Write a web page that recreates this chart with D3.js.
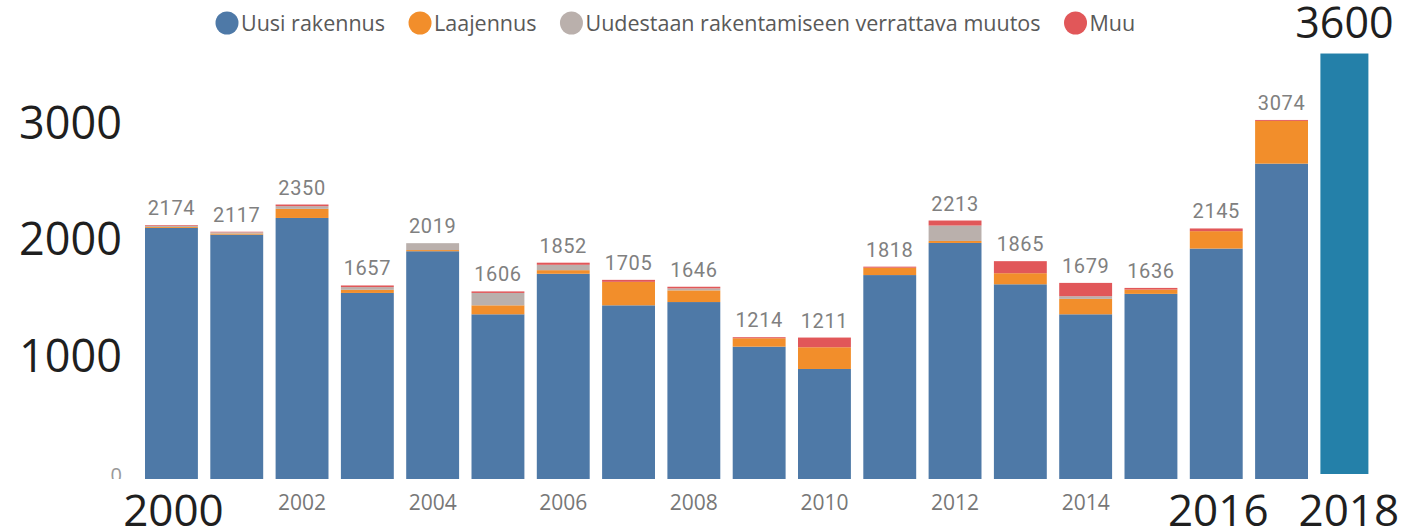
<!DOCTYPE html>
<html>
<head>
<meta charset="utf-8">
<script src="https://cdn.jsdelivr.net/npm/d3@7"></script>
<style>
  body { margin: 0; background: #fff; }
</style>
</head>
<body>
<script>

// get the data
var years = [2000, 2001, 2002, 2003, 2004, 2005, 2006, 2007, 2008, 2009,
             2010, 2011, 2012, 2013, 2014, 2015, 2016, 2017];
var uusi  = [2150, 2092, 2235, 1593, 1950, 1410, 1757, 1487, 1515, 1133,
             942, 1746, 2021, 1667, 1410, 1585, 1973, 2700];
var laaj  = [8, 10, 78, 27, 10, 77, 31, 201, 100, 72,
             186, 63, 17, 95, 132, 37, 149, 366];
var uud   = [10, 10, 23, 23, 59, 106, 46, 0, 17, 0,
             0, 0, 132, 0, 23, 0, 0, 0];
var muu   = [6, 5, 14, 14, 0, 13, 18, 17, 14, 9,
             83, 9, 43, 103, 114, 14, 23, 8];
var totals = [2174, 2117, 2350, 1657, 2019, 1606, 1852, 1705, 1646, 1214,
              1211, 1818, 2213, 1865, 1679, 1636, 2145, 3074];

// the extra 2018 bar pasted on the right
var extraYear = 2018;
var extraValue = 3600;

var seriesNames = ["Uusi rakennus", "Laajennus", "Uudestaan rakentamiseen verrattava muutos", "Muu"];
var seriesColors = ["#4e79a7", "#f28e2b", "#bab0ac", "#e15759"];

var smallTicks = [2002, 2004, 2006, 2008, 2010, 2012, 2014];
var bigTicks = [2000, 2016, 2018];
var bigValues = [1000, 2000, 3000];

var width = 1401,
    height = 531,
    baseline = 479;

var svg = d3.select("body").append("svg")
    .attr("width", width)
    .attr("height", height);

var allYears = years.concat([extraYear]);

var x = d3.scaleBand()
    .domain(allYears)
    .range([138.8, 1379.5])
    .paddingInner(0.19)
    .paddingOuter(0.095);

var y = d3.scaleLinear()
    .domain([0, 3600])
    .range([baseline, baseline - 3600 * 0.1168]);

// build rows for the stack
var rows = years.map(function(yr, i) {
    return {year: yr, s0: uusi[i], s1: laaj[i], s2: uud[i], s3: muu[i], total: totals[i]};
});

var stack = d3.stack().keys(["s0", "s1", "s2", "s3"]);
var stacked = stack(rows);

var layers = svg.append("g")
    .selectAll("g")
    .data(stacked)
    .enter().append("g")
    .attr("fill", function(d, i) { return seriesColors[i]; });

layers.selectAll("rect")
    .data(function(d) { return d; })
    .enter().append("rect")
    .attr("x", function(d) { return x(d.data.year); })
    .attr("width", x.bandwidth())
    .attr("y", function(d) { return y(d[1]); })
    .attr("height", function(d) { return y(d[0]) - y(d[1]); });

// value labels above the bars
svg.append("g")
    .selectAll("text")
    .data(rows)
    .enter().append("text")
    .attr("x", function(d) { return x(d.year) + x.bandwidth() / 2; })
    .attr("y", function(d) { return y(d.total) - 10; })
    .attr("text-anchor", "middle")
    .style("font-family", "Roboto, sans-serif")
    .style("font-size", "20px")
    .style("letter-spacing", "0.6px")
    .style("fill", "#808080")
    .text(function(d) { return d.total; });

// the 2018 bar is a bit narrower and sits a few px higher
var extraW = 48;
var shift = 5;
svg.append("rect")
    .attr("x", x(extraYear))
    .attr("width", extraW)
    .attr("y", y(extraValue) - shift)
    .attr("height", y(0) - y(extraValue))
    .attr("fill", "#2480a9");

svg.append("text")
    .attr("x", x(extraYear) + extraW / 2)
    .attr("y", y(extraValue) - shift - 16)
    .attr("text-anchor", "middle")
    .style("font-family", "'Open Sans', sans-serif")
    .style("font-size", "43px")
    .style("fill", "#1f1f1f")
    .text(extraValue);

// small gray year ticks
svg.append("g")
    .selectAll("text")
    .data(smallTicks)
    .enter().append("text")
    .attr("x", function(d) { return x(d) + x.bandwidth() / 2; })
    .attr("y", 510)
    .attr("text-anchor", "middle")
    .style("font-family", "'Open Sans', sans-serif")
    .style("font-size", "21px")
    .style("fill", "#777")
    .text(function(d) { return d; });

// big black year labels
svg.append("g")
    .selectAll("text")
    .data(bigTicks)
    .enter().append("text")
    .attr("x", function(d) { return x(d) + x.bandwidth() / 2 + 2; })
    .attr("y", 526)
    .attr("text-anchor", "middle")
    .style("font-family", "'Open Sans', sans-serif")
    .style("font-size", "44px")
    .style("fill", "#1f1f1f")
    .text(function(d) { return d; });

// big y labels on the left
svg.append("g")
    .selectAll("text")
    .data(bigValues)
    .enter().append("text")
    .attr("x", 122)
    .attr("y", function(d) { return y(d) + 10; })
    .attr("text-anchor", "end")
    .style("font-family", "'Open Sans', sans-serif")
    .style("font-size", "45px")
    .style("fill", "#1f1f1f")
    .text(function(d) { return d; });

// tiny cut off zero
svg.append("clipPath")
    .attr("id", "zeroclip")
    .append("rect")
    .attr("x", 0).attr("y", 0)
    .attr("width", 140).attr("height", baseline);

svg.append("text")
    .attr("x", 122)
    .attr("y", y(0) + 3)
    .attr("text-anchor", "end")
    .attr("clip-path", "url(#zeroclip)")
    .style("font-family", "'Open Sans', sans-serif")
    .style("font-size", "20px")
    .style("fill", "#999")
    .text("0");

// legend on top, flows left to right
var legend = svg.append("g");
var lx = 227;
seriesNames.forEach(function(name, i) {
    legend.append("circle")
        .attr("cx", lx)
        .attr("cy", 23)
        .attr("r", 11.5)
        .attr("fill", seriesColors[i]);
    var t = legend.append("text")
        .attr("x", lx + 14)
        .attr("y", 31)
        .style("font-family", "'Open Sans', sans-serif")
        .style("font-size", "21.5px")
        .style("fill", "#595959")
        .text(name);
    lx = lx + 14 + t.node().getComputedTextLength() + 35;
});

</script>
</body>
</html>
